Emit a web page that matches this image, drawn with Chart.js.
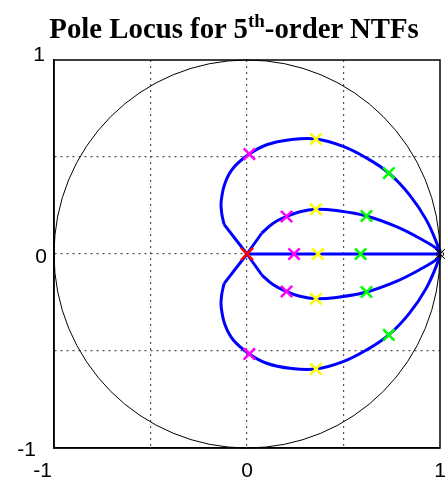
<!DOCTYPE html>
<html>
<head>
<meta charset="utf-8">
<script src="https://cdn.jsdelivr.net/npm/chart.js@4/dist/chart.umd.min.js"></script>
<style>
  html, body { margin: 0; padding: 0; background: #fff; }
  #wrap { position: relative; width: 445px; height: 478px; }
  #title {
    position: absolute; left: 0; top: 13px; width: 468px; text-align: center;
    font: bold 28.8px "Liberation Serif", "Times New Roman", serif; color: #000;
    line-height: 30px; white-space: nowrap;
  }
  #title sup { font-size: 19px; line-height: 0; vertical-align: 11px; }
  canvas { position: absolute; left: 0; top: 0; }
</style>
</head>
<body>
<div id="wrap">
  <canvas id="c" width="445" height="478"></canvas>
  <div id="title">Pole Locus for 5<sup>th</sup>-order NTFs</div>
</div>
<script>
// Axis ticks
const tickValues = [-1, -0.5, 0, 0.5, 1];
const tickLabels = ['-1', '', '0', '', '1'];

// Pole loci (z-plane), [re, im]
const outerStartUpper = [[0, 0], [-0.119, 0.153]];
const outerUpper = [[-0.119, 0.153], [-0.131, 0.210], [-0.134, 0.270], [-0.114, 0.365], [-0.071, 0.443],
  [0.012, 0.515], [0.102, 0.563], [0.222, 0.589], [0.357, 0.593], [0.498, 0.555], [0.619, 0.495],
  [0.735, 0.417], [0.842, 0.305], [0.929, 0.176], [0.994, 0.029], [1, 0]];
const outerStartLower = [[0, 0], [-0.119, -0.153]];
const outerLower = [[-0.119, -0.153], [-0.131, -0.210], [-0.134, -0.270], [-0.114, -0.365], [-0.071, -0.443],
  [0.012, -0.515], [0.102, -0.563], [0.222, -0.589], [0.357, -0.593], [0.498, -0.555], [0.619, -0.495],
  [0.735, -0.417], [0.842, -0.305], [0.929, -0.176], [0.994, -0.029], [1, 0]];
const innerStartUpper = [[0, 0], [0.076, 0.107]];
const innerUpper = [[0.076, 0.107], [0.136, 0.159], [0.205, 0.193], [0.274, 0.218], [0.357, 0.231],
  [0.464, 0.224], [0.619, 0.196], [0.774, 0.141], [0.894, 0.081], [0.994, 0.020], [1, 0]];
const innerStartLower = [[0, 0], [0.076, -0.107]];
const innerLower = [[0.076, -0.107], [0.136, -0.159], [0.205, -0.193], [0.274, -0.218], [0.357, -0.231],
  [0.464, -0.224], [0.619, -0.196], [0.774, -0.141], [0.894, -0.081], [0.994, -0.020], [1, 0]];
const realLocus = [[0, 0], [1, 0]];

// Pole positions at selected design points
const polesStart = [[0, 0]];
const polesMagenta = [[0.012, 0.515], [0.012, -0.515], [0.205, 0.193], [0.205, -0.193], [0.244, 0]];
const polesYellow = [[0.357, 0.593], [0.357, -0.593], [0.357, 0.231], [0.357, -0.231], [0.368, 0]];
const polesGreen = [[0.735, 0.417], [0.735, -0.417], [0.619, 0.196], [0.619, -0.196], [0.589, 0]];
const polesEnd = [[1, 0]];
const zerosEnd = [[1, 0]];

const toXY = arr => arr.map(p => ({ x: p[0], y: p[1] }));

function locus(points, smooth) {
  return {
    data: toXY(points), showLine: true, borderColor: '#0000ff', borderWidth: 3,
    pointRadius: 0, pointHoverRadius: 0, tension: smooth ? 0.4 : 0, order: 2, clip: false
  };
}
function marks(points, color, radius, width, style) {
  return {
    data: toXY(points), showLine: false, pointStyle: style || 'crossRot',
    pointRadius: radius, pointHoverRadius: radius, pointBorderColor: color,
    pointBackgroundColor: 'rgba(0,0,0,0)', pointBorderWidth: width, borderColor: color,
    order: 1, clip: false
  };
}

const labelFont = '21px "Liberation Sans", Arial, sans-serif';

// Unit circle, axes frame and tick labels
const framePlugin = {
  id: 'frame',
  beforeDatasetsDraw(chart) {
    const { ctx, scales: { x, y } } = chart;
    const cx = x.getPixelForValue(0), cy = y.getPixelForValue(0);
    const rx = x.getPixelForValue(1) - cx, ry = cy - y.getPixelForValue(1);
    ctx.save();
    ctx.strokeStyle = '#000';
    ctx.lineWidth = 1;
    ctx.beginPath();
    ctx.ellipse(cx, cy, rx, ry, 0, 0, Math.PI * 2);
    ctx.stroke();
    ctx.restore();
  },
  afterDraw(chart) {
    const { ctx, chartArea: a, scales: { x, y } } = chart;
    ctx.save();
    ctx.strokeStyle = '#000';
    ctx.lineWidth = 1.5;
    ctx.strokeRect(a.left, a.top, a.right - a.left, a.bottom - a.top);

    ctx.fillStyle = '#000';
    ctx.font = labelFont;
    ctx.textBaseline = 'alphabetic';
    tickValues.forEach((v, i) => {
      const t = tickLabels[i];
      if (!t) return;
      // horizontal axis labels
      const px = x.getPixelForValue(v);
      if (v === x.min) { ctx.textAlign = 'right'; ctx.fillText(t, px - 2, a.bottom + 29); }
      else { ctx.textAlign = 'center'; ctx.fillText(t, px, a.bottom + 29); }
      // vertical axis labels
      const py = y.getPixelForValue(v);
      ctx.textAlign = 'right';
      if (v === y.max) ctx.fillText(t, a.left - 9, py + 1);
      else if (v === y.min) ctx.fillText(t, a.left - 18, py + 8);
      else ctx.fillText(t, a.left - 7, py + 9);
    });
    ctx.restore();
  }
};

const gridColor = c => (Math.abs(c.tick.value) === 1 ? 'rgba(0,0,0,0)' : '#555');

const axisCommon = {
  type: 'linear', min: -1, max: 1,
  afterBuildTicks: s => { s.ticks = tickValues.map(v => ({ value: v })); },
  ticks: { display: false },
  grid: { color: gridColor, lineWidth: 1.2, drawTicks: false },
  border: { display: true, color: '#000', width: 1.5, dash: [2, 4] }
};

new Chart(document.getElementById('c'), {
  type: 'scatter',
  data: {
    datasets: [
      marks(polesStart, '#ff0000', 8.5, 2.5),
      marks(polesMagenta, '#ff00ff', 8, 2.5),
      marks(polesYellow, '#ffff00', 8, 2.5),
      marks(polesGreen, '#00ff00', 8, 2.5),
      marks(polesEnd, '#000000', 7, 1),
      marks(zerosEnd, '#000000', 3.5, 1, 'circle'),
      locus(realLocus, false),
      locus(outerStartUpper, false), locus(outerUpper, true),
      locus(outerStartLower, false), locus(outerLower, true),
      locus(innerStartUpper, false), locus(innerUpper, true),
      locus(innerStartLower, false), locus(innerLower, true)
    ]
  },
  options: {
    responsive: false, animation: false, devicePixelRatio: 1,
    layout: { autoPadding: false, padding: { top: 60, right: 5, left: 0, bottom: 0 } },
    plugins: { legend: { display: false }, tooltip: { enabled: false }, title: { display: false } },
    scales: {
      x: Object.assign({}, axisCommon, { afterFit: s => { s.height = 30; } }),
      y: Object.assign({}, axisCommon, { afterFit: s => { s.width = 54; } })
    }
  },
  plugins: [framePlugin]
});
</script>
</body>
</html>
